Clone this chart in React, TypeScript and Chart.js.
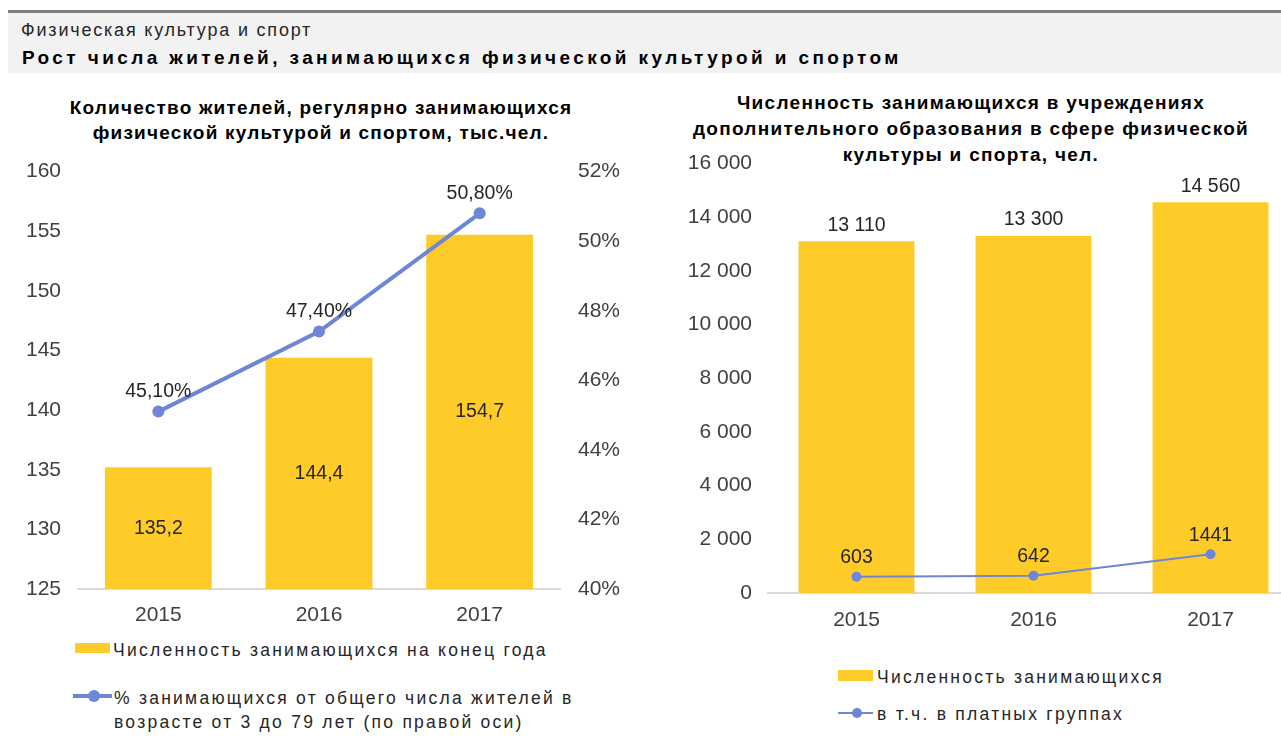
import React, { useEffect, useRef } from "react";
import { Chart, registerables } from "chart.js";

Chart.register(...registerables);

// ---- data ----
const years = ["2015", "2016", "2017"];
const residentsThousands = [135.2, 144.4, 154.7];
const residentsSharePct = [45.1, 47.4, 50.8];
const studentsTotal = [13110, 13300, 14560];
const studentsPaid = [603, 642, 1441];

const leftAxisTicks = { min: 125, max: 160, step: 5 };
const rightAxisTicks = { min: 40, max: 52, step: 2 };
const studentsAxisTicks = { min: 0, max: 16000, step: 2000 };

// ---- styles ----
const FONT = "'Liberation Sans', Arial, sans-serif";
const BAR_COLOR = "#FFCB29";
const LINE_COLOR = "#6E86D8";
const TICK_COLOR = "#404040";
const LABEL_COLOR = "#262626";
const AXIS_LINE = "#D9D9D9";

const spaced = (v: number) => String(Math.round(v)).replace(/\B(?=(\d{3})+(?!\d))/g, " ");
const comma = (v: number, d: number) => v.toFixed(d).replace(".", ",");

const labelPlugin = {
  id: "valueLabels",
  afterDatasetsDraw(chart: any) {
    const ctx = chart.ctx;
    const area = chart.chartArea;
    chart.data.datasets.forEach((ds: any, i: number) => {
      const meta = chart.getDatasetMeta(i);
      if (!ds.valueLabel) return;
      const cfg = ds.valueLabel;
      ctx.save();
      ctx.font = `${cfg.size}px ${FONT}`;
      ctx.fillStyle = LABEL_COLOR;
      ctx.textAlign = "center";
      ctx.textBaseline = "middle";
      meta.data.forEach((el: any, j: number) => {
        const v = ds.data[j];
        const text = cfg.format(v);
        let y: number;
        if (cfg.mode === "center") y = (el.y + Math.min(el.base, area.bottom)) / 2;
        else y = el.y - cfg.offset;
        ctx.fillText(text, el.x, y);
      });
      ctx.restore();
    });
  },
};

function tickFont(size = 21) {
  return { family: FONT, size };
}

function LeftChart() {
  const ref = useRef<HTMLCanvasElement | null>(null);
  useEffect(() => {
    const chart = new Chart(ref.current as HTMLCanvasElement, {
      type: "bar",
      data: {
        labels: years,
        datasets: [
          {
            type: "line",
            label: "% занимающихся",
            data: residentsSharePct,
            yAxisID: "y2",
            borderColor: LINE_COLOR,
            backgroundColor: LINE_COLOR,
            borderWidth: 4,
            pointRadius: 6,
            pointBorderWidth: 0,
            tension: 0,
            order: 0,
            valueLabel: { mode: "above", offset: 20, size: 19.5, format: (v: number) => comma(v, 2) + "%" },
          } as any,
          {
            type: "bar",
            label: "Численность",
            data: residentsThousands,
            yAxisID: "y",
            backgroundColor: BAR_COLOR,
            categoryPercentage: 1,
            barPercentage: 0.665,
            order: 1,
            valueLabel: { mode: "center", size: 19.5, format: (v: number) => comma(v, 1) },
          } as any,
        ],
      },
      options: {
        responsive: false,
        animation: false,
        devicePixelRatio: 1,
        layout: { autoPadding: false, padding: 0 },
        plugins: { legend: { display: false }, tooltip: { enabled: false }, title: { display: false } },
        scales: {
          x: {
            grid: { display: false, drawTicks: false },
            border: { display: true, color: AXIS_LINE, width: 2 },
            ticks: { font: tickFont(), color: TICK_COLOR, padding: 14 },
            afterFit: (s: any) => { s.height = 41; },
          },
          y: {
            position: "left",
            min: leftAxisTicks.min,
            max: leftAxisTicks.max,
            grid: { display: false, drawTicks: false },
            border: { display: false },
            ticks: { stepSize: leftAxisTicks.step, font: tickFont(), color: TICK_COLOR, padding: 17 },
            afterFit: (s: any) => { s.width = 78; },
          },
          y2: {
            position: "right",
            min: rightAxisTicks.min,
            max: rightAxisTicks.max,
            grid: { display: false, drawTicks: false },
            border: { display: false },
            ticks: { stepSize: rightAxisTicks.step, font: tickFont(), color: TICK_COLOR, padding: 18, callback: (v: any) => v + "%" },
            afterFit: (s: any) => { s.width = 80; },
          },
        },
      } as any,
      plugins: [labelPlugin],
    });
    return () => chart.destroy();
  }, []);
  return <canvas ref={ref} width={640} height={489} style={{ position: "absolute", left: 0, top: 141 }} />;
}

function RightChart() {
  const ref = useRef<HTMLCanvasElement | null>(null);
  useEffect(() => {
    const chart = new Chart(ref.current as HTMLCanvasElement, {
      type: "bar",
      data: {
        labels: years,
        datasets: [
          {
            type: "line",
            label: "в т.ч. в платных группах",
            data: studentsPaid,
            borderColor: LINE_COLOR,
            backgroundColor: LINE_COLOR,
            borderWidth: 2,
            pointRadius: 5,
            pointBorderWidth: 0,
            tension: 0,
            order: 0,
            valueLabel: { mode: "above", offset: 19, size: 19.5, format: (v: number) => String(v) },
          } as any,
          {
            type: "bar",
            label: "Численность занимающихся",
            data: studentsTotal,
            backgroundColor: BAR_COLOR,
            categoryPercentage: 1,
            barPercentage: 0.655,
            order: 1,
            valueLabel: { mode: "above", offset: 16, size: 19.5, format: (v: number) => spaced(v) },
          } as any,
        ],
      },
      options: {
        responsive: false,
        animation: false,
        devicePixelRatio: 1,
        layout: { autoPadding: false, padding: { top: 0, left: 0, right: 1, bottom: 0 } },
        plugins: { legend: { display: false }, tooltip: { enabled: false }, title: { display: false } },
        scales: {
          x: {
            grid: { display: false, drawTicks: false },
            border: { display: true, color: AXIS_LINE, width: 2 },
            ticks: { font: tickFont(), color: TICK_COLOR, padding: 15 },
            afterFit: (s: any) => { s.height = 37; },
          },
          y: {
            min: studentsAxisTicks.min,
            max: studentsAxisTicks.max,
            grid: { display: false, drawTicks: false },
            border: { display: false },
            ticks: { stepSize: studentsAxisTicks.step, font: tickFont(), color: TICK_COLOR, padding: 16, callback: (v: any) => spaced(Number(v)) },
            afterFit: (s: any) => { s.width = 108; },
          },
        },
      } as any,
      plugins: [labelPlugin],
    });
    return () => chart.destroy();
  }, []);
  return <canvas ref={ref} width={640} height={495} style={{ position: "absolute", left: 660, top: 135 }} />;
}

const abs = (left: number, top: number, extra: React.CSSProperties = {}): React.CSSProperties => ({
  position: "absolute",
  left,
  top,
  fontFamily: FONT,
  whiteSpace: "nowrap",
  ...extra,
});

export default function App() {
  const legendText: React.CSSProperties = { fontSize: 17.5, letterSpacing: 2.25, color: "#262626", lineHeight: "24px" };
  return (
    <div style={{ position: "fixed", left: 0, top: 0, width: 1281, height: 738, overflow: "hidden", background: "#fff" }}>
      {/* header */}
      <div style={{ position: "absolute", left: 8, top: 10, width: 1273, height: 3, background: "#7F7F7F" }} />
      <div style={{ position: "absolute", left: 8, top: 13, width: 1273, height: 60, background: "#F2F2F2" }} />
      <div style={abs(21, 19, { fontSize: 18, letterSpacing: 1.8, lineHeight: "22px", color: "#262626" })}>Физическая культура и спорт</div>
      <div style={abs(22, 46, { fontSize: 19, fontWeight: "bold", letterSpacing: 3.4, lineHeight: "24px", color: "#000" })}>
        Рост числа жителей, занимающихся физической культурой и спортом
      </div>

      {/* left chart */}
      <div style={abs(1, 94.5, { width: 640, textAlign: "center", fontSize: 19, fontWeight: "bold", letterSpacing: 1.2, lineHeight: "25px", color: "#000" })}>
        <div>Количество жителей, регулярно занимающихся</div>
        <div>физической культурой и спортом, тыс.чел.</div>
      </div>
      <LeftChart />
      <div style={{ position: "absolute", left: 75, top: 643, width: 35, height: 10, background: BAR_COLOR }} />
      <div style={abs(113, 638, legendText)}>Численность занимающихся на конец года</div>
      <div style={{ position: "absolute", left: 73, top: 694, width: 39, height: 4, background: LINE_COLOR }} />
      <div style={{ position: "absolute", left: 88, top: 690, width: 12, height: 12, borderRadius: 6, background: LINE_COLOR }} />
      <div style={abs(114, 686, legendText)}>
        <div>% занимающихся от общего числа жителей в</div>
        <div>возрасте от 3 до 79 лет (по правой оси)</div>
      </div>

      {/* right chart */}
      <div style={abs(661, 90, { width: 620, textAlign: "center", fontSize: 19, fontWeight: "bold", letterSpacing: 1.3, lineHeight: "26px", color: "#000" })}>
        <div>Численность занимающихся в учреждениях</div>
        <div>дополнительного образования в сфере физической</div>
        <div>культуры и спорта, чел.</div>
      </div>
      <RightChart />
      <div style={{ position: "absolute", left: 838, top: 670, width: 35, height: 11, background: BAR_COLOR }} />
      <div style={abs(877, 665, legendText)}>Численность занимающихся</div>
      <div style={{ position: "absolute", left: 838, top: 712, width: 35, height: 2, background: LINE_COLOR }} />
      <div style={{ position: "absolute", left: 852, top: 708, width: 10, height: 10, borderRadius: 5, background: LINE_COLOR }} />
      <div style={abs(877, 702, legendText)}>в т.ч. в платных группах</div>
    </div>
  );
}
